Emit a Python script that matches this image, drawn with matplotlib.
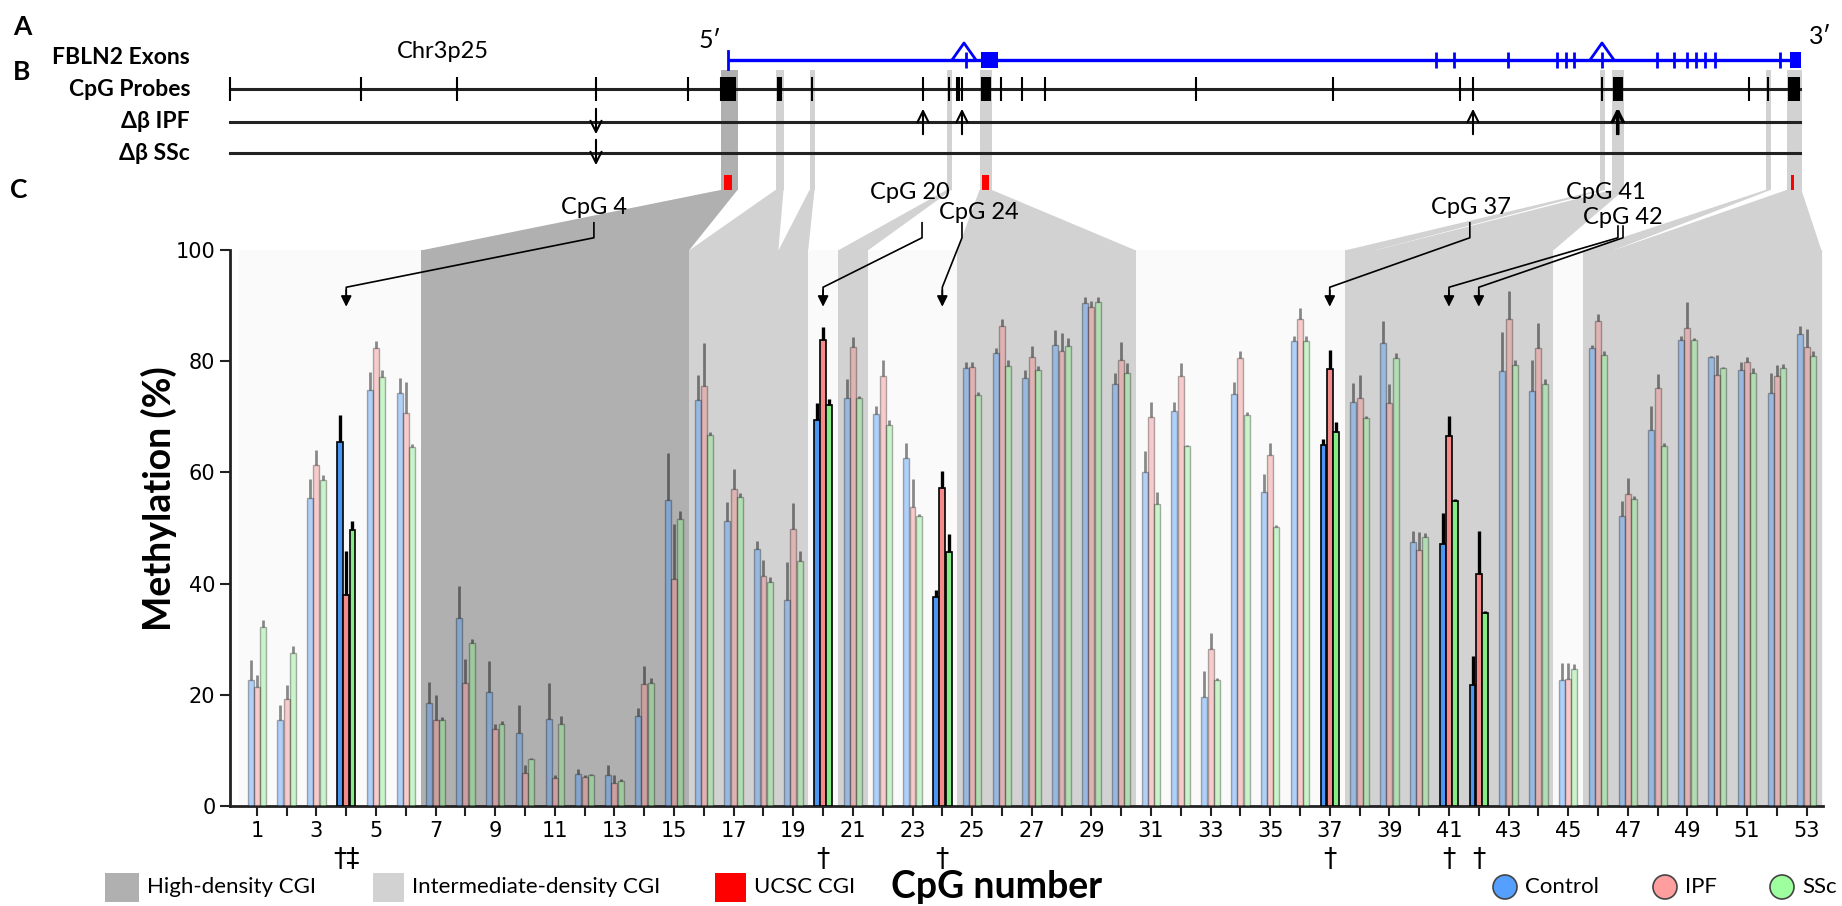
import matplotlib
matplotlib.use('Agg')
import matplotlib.pyplot as plt
from matplotlib.colors import to_rgba
from matplotlib.patches import Polygon, Rectangle, Circle
import numpy as np

# ---- data: methylation (%) per CpG, mean and SEM ----
cpg = np.arange(1, 54)
control = [22.7, 15.4, 55.4, 65.4, 74.9, 74.2, 18.5, 33.8, 20.5, 13.1, 15.6, 5.7, 5.6, 16.1, 55.1,
           73.0, 51.2, 46.2, 37.1, 69.4, 73.3, 70.5, 62.5, 37.6, 78.7, 81.4, 77.0, 83.0, 90.5, 75.9,
           60.0, 71.1, 19.6, 74.1, 56.5, 83.6, 64.9, 72.7, 83.2, 47.4, 47.1, 21.8, 78.2, 74.7, 22.7,
           82.3, 52.2, 67.6, 83.8, 80.8, 78.5, 74.2, 84.9]
control_sem = [3.5, 2.8, 3.4, 5.0, 3.1, 2.7, 3.8, 5.7, 5.5, 5.0, 6.6, 1.0, 1.8, 1.5, 8.4,
               4.5, 3.4, 1.5, 6.8, 3.1, 3.5, 1.5, 2.7, 1.3, 1.1, 1.0, 1.5, 2.6, 1.0, 1.9,
               3.9, 1.6, 4.6, 2.1, 3.3, 1.0, 1.1, 3.3, 4.0, 2.1, 5.6, 5.1, 7.1, 5.6, 3.0,
               0.7, 2.7, 4.3, 0.8, 0.2, 1.4, 3.7, 1.4]
ipf = [21.4, 19.2, 61.4, 37.9, 82.4, 70.7, 15.5, 22.2, 13.8, 6.0, 5.0, 5.3, 4.1, 22.0, 40.8,
       75.5, 57.0, 41.3, 49.8, 83.9, 82.6, 77.4, 53.8, 57.2, 79.0, 86.4, 80.8, 81.9, 89.7, 80.3,
       69.9, 77.4, 28.2, 80.5, 63.1, 87.6, 78.6, 73.4, 72.5, 46.1, 66.5, 41.8, 87.6, 82.4, 22.9,
       87.3, 56.1, 75.2, 86.0, 77.5, 79.9, 77.3, 82.6]
ipf_sem = [2.2, 2.6, 2.7, 7.9, 1.2, 5.5, 4.5, 4.2, 1.0, 1.4, 0.5, 0.3, 1.4, 3.2, 10.0,
           7.8, 3.6, 2.9, 4.7, 2.2, 1.7, 2.9, 5.0, 3.1, 0.9, 1.2, 2.0, 3.2, 1.2, 3.1,
           2.8, 2.3, 2.9, 1.4, 2.2, 2.0, 3.4, 4.1, 3.4, 3.1, 3.6, 7.7, 5.0, 4.5, 2.8,
           1.1, 2.9, 2.5, 4.7, 3.7, 0.9, 2.1, 3.2]
ssc = [32.2, 27.6, 58.7, 49.7, 77.1, 64.6, 15.4, 29.3, 14.8, 8.5, 14.8, 5.6, 4.5, 22.1, 51.6,
       66.7, 55.6, 40.3, 44.0, 72.1, 73.3, 68.5, 52.1, 45.7, 74.0, 79.2, 78.4, 82.8, 90.7, 77.9,
       54.4, 64.7, 22.6, 70.4, 50.2, 83.6, 67.3, 69.8, 80.5, 48.4, 54.9, 34.7, 79.3, 75.9, 24.7,
       81.1, 55.3, 64.8, 83.9, 78.8, 77.9, 78.7, 80.9]
ssc_sem = [1.3, 1.1, 0.8, 1.5, 1.3, 0.5, 0.6, 0.7, 0.4, 0.2, 1.4, 0.1, 0.4, 1.0, 1.4,
           0.5, 0.7, 0.9, 1.9, 1.1, 0.4, 0.9, 0.5, 3.3, 0.5, 1.1, 0.8, 1.4, 0.8, 1.7,
           2.0, 0.3, 0.5, 0.4, 0.4, 1.0, 1.7, 0.4, 1.0, 0.7, 0.3, 0.4, 0.9, 0.9, 0.8,
           0.7, 0.5, 0.4, 0.2, 0.2, 0.9, 0.8, 1.0]

highlight = [4, 20, 24, 37, 41, 42]
dagger = {4: '†‡', 20: '†', 24: '†', 37: '†', 41: '†', 42: '†'}

# ---- genomic track (drawing units along Chr3p25) ----
probe_pos = [230, 361, 457, 596, 688, 721,
             723, 724.5, 726, 727.5, 729, 730.5, 732, 733.5, 735,
             778, 779.5, 781, 812, 923, 949, 957, 959, 962,
             982, 983.5, 985, 986.5, 988, 989.5,
             1001, 1022, 1045, 1196, 1333, 1460, 1473, 1602,
             1614, 1615.5, 1617, 1618.5, 1620, 1621.5, 1749, 1768,
             1789, 1790.7, 1792.3, 1794, 1795.7, 1797.3, 1799]
gene_span = (728, 1800)
exon_ticks = [966, 1436, 1454, 1508, 1557, 1566, 1574, 1602, 1657, 1674, 1687, 1696, 1705, 1715, 1780]
exon_blocks = [(981, 998), (1790, 1801)]
splice_carets = [(952, 976), (1590, 1614)]
ucsc_cgi = [(724, 732), (982, 989), (1791, 1794)]
delta_ipf = {4: 'down', 20: 'up', 24: 'up', 37: 'up', 41: 'up', 42: 'up'}
delta_ssc = {4: 'down'}
cgi_groups = [(7, 15, 'high'), (16, 18, 'int'), (19, 19, 'int'), (21, 21, 'int'),
              (25, 30, 'int'), (38, 38, 'int'), (39, 44, 'int'), (46, 46, 'int'), (47, 53, 'int')]

# ---- styles ----
c_ctrl, c_ipf, c_ssc = '#4a96f5', '#f58a8a', '#86ec86'
c_high, c_int = '#b0b0b0', '#d2d2d2'
calib = ['Lato', 'DejaVu Sans']

fig = plt.figure(figsize=(18.42, 9.06), dpi=100)
ov = fig.add_axes([0, 0, 1, 1], zorder=0)
ov.set_xlim(0, 1842)
ov.set_ylim(906, 0)
ov.axis('off')

ax = fig.add_axes([230 / 1842, 100 / 906, 1593 / 1842, 556 / 906], zorder=1)
ax.patch.set_visible(False)
ax.set_xlim(0.1, 53.55)
ax.set_ylim(0, 100)


def to_ov(x, y):
    d = ax.transData.transform((x, y))
    return ov.transData.inverted().transform(d)


# backdrop
ax.axvspan(0.4, 53.55, color='#fafafa', zorder=0)

# CGI shading: column in track, fan, and span in bar axes
for first, last, kind in cgi_groups:
    col = c_high if kind == 'high' else c_int
    pts = probe_pos[first - 1:last]
    l, r = min(pts) - 2.5, max(pts) + 2.5
    ov.add_patch(Rectangle((l, 70), r - l, 120, color=col, zorder=1, lw=0))
    xl = to_ov(first - 0.5, 100)[0]
    xr = to_ov(last + 0.5, 100)[0]
    ov.add_patch(Polygon([(l, 190), (r, 190), (xr, 250.5), (xl, 250.5)], closed=True,
                         color=col, lw=0, zorder=1))
    ax.axvspan(first - 0.5, last + 0.5, color=col, lw=0, zorder=1)

for l, r in ucsc_cgi:
    ov.add_patch(Rectangle((l, 175), r - l, 15, color='red', lw=0, zorder=3))

# gene model
gy = 60
ov.plot(gene_span, [gy, gy], color='#0000ff', lw=2.4, zorder=2, solid_capstyle='butt')
ov.plot([gene_span[0]] * 2, [gy - 9, gy + 9], color='#0000ff', lw=2, zorder=2)
ov.vlines(exon_ticks, gy - 8, gy + 8, color='#0000ff', lw=2, zorder=2)
for a, b in exon_blocks:
    ov.add_patch(Rectangle((a, gy - 8), b - a, 16, color='#0000ff', lw=0, zorder=2))
for a, b in splice_carets:
    ov.plot([a, (a + b) / 2, b], [gy, gy - 17, gy], color='#0000ff', lw=2, zorder=2)

# probes and delta-beta tracks
py, iy, sy = 89, 122, 153
for yy in (py, iy, sy):
    ov.plot([230, 1800], [yy, yy], color='#222222', lw=2.2, zorder=2)
ov.vlines(probe_pos, py - 12, py + 12, color='black', lw=1.5, zorder=2)
arrow_kw = dict(arrowstyle='->', color='black', lw=1.5, mutation_scale=20)
for c, d in delta_ipf.items():
    x = probe_pos[c - 1]
    y0, y1 = (137, 106) if d == 'up' else (106, 137)
    ov.annotate('', xy=(x, y1), xytext=(x, y0), arrowprops=arrow_kw, zorder=3)
for c, d in delta_ssc.items():
    x = probe_pos[c - 1]
    ov.annotate('', xy=(x, 168), xytext=(x, 137), arrowprops=arrow_kw, zorder=3)

# track labels
ov.text(22, 27, 'A', fontsize=19, fontweight='bold', family=calib, ha='center', va='center')
ov.text(22, 72, 'B', fontsize=19, fontweight='bold', family=calib, ha='center', va='center')
ov.text(19, 190, 'C', fontsize=19, fontweight='bold', family=calib, ha='center', va='center')
for txt, yy in [('FBLN2 Exons', 57), ('CpG Probes', py), ('Δβ IPF', iy), ('Δβ SSc', sy)]:
    ov.text(190, yy, txt, fontsize=16.5, fontweight='bold', family=calib, ha='right', va='center')
ov.text(443, 51, 'Chr3p25', fontsize=17, family=calib, ha='center', va='center')
ov.text(710, 40, '5′', fontsize=18, family=calib, ha='center', va='center')
ov.text(1820, 36, '3′', fontsize=18, family=calib, ha='center', va='center')

# bars
hl = np.isin(cpg, highlight)
offs = [-0.21, 0.0, 0.21]
series = [(control, control_sem, c_ctrl), (ipf, ipf_sem, c_ipf), (ssc, ssc_sem, c_ssc)]
for (vals, sem, col), off in zip(series, offs):
    vals = np.asarray(vals)
    sem = np.asarray(sem)
    x = cpg + off
    for mask, alpha, ecol, lw, elw, ecl in [(~hl, 0.42, to_rgba('black', 0.3), 1.0, 2.0, to_rgba('black', 0.45)),
                                            (hl, 1.0, 'black', 1.2, 2.4, 'black')]:
        ax.bar(x[mask], vals[mask], 0.2, color=to_rgba(col, alpha), edgecolor=ecol,
               linewidth=lw, zorder=3)
        ax.errorbar(x[mask], vals[mask], yerr=[np.zeros(mask.sum()), sem[mask]], fmt='none',
                    ecolor=ecl, elinewidth=elw, capsize=0, zorder=4)

# CpG call-outs
label_layout = {4: (12.31, 107.6, 12.31, 104.9), 20: (22.91, 110.3, 23.32, 104.9),
                24: (25.23, 106.7, 24.66, 104.9), 37: (41.74, 107.6, 41.70, 104.9),
                41: (46.27, 110.4, 46.67, 104.3), 42: (46.84, 105.9, 46.84, 104.3)}
for c in highlight:
    tx, ty, sx, sy0 = label_layout[c]
    ax.text(tx, ty, f'CpG {c}', fontsize=17, family=calib, ha='center', va='center',
            clip_on=False, zorder=7)
    ax.plot([sx, sx, c, c], [sy0, 102.2, 93.3, 91.5], color='black', lw=1.2,
            clip_on=False, zorder=6)
    ax.annotate('', xy=(c, 89.3), xytext=(c, 93.3),
                arrowprops=dict(arrowstyle='-|>', color='black', lw=1.2, mutation_scale=16),
                annotation_clip=False, zorder=6)

for c, s in dagger.items():
    ax.text(c, -0.098, s, transform=ax.get_xaxis_transform(), fontsize=19,
            ha='center', va='center')

# axes styling
for s in ('top', 'right'):
    ax.spines[s].set_visible(False)
for s in ('left', 'bottom'):
    ax.spines[s].set_linewidth(2)
    ax.spines[s].set_color('#222222')
ax.set_xticks(cpg)
ax.set_xticklabels([str(c) if c % 2 else '' for c in cpg])
ax.set_yticks([0, 20, 40, 60, 80, 100])
ax.tick_params(axis='both', direction='out', length=7, width=1.5, labelsize=15, colors='#222222')
ax.tick_params(axis='both', labelcolor='black')

fig.text(159 / 1842, 1 - 499 / 906, 'Methylation (%)', rotation=90, fontsize=27,
         fontweight='bold', family=calib, ha='center', va='center')
fig.text(997 / 1842, 1 - 887 / 906, 'CpG number', fontsize=27,
         fontweight='bold', family=calib, ha='center', va='center')

# legend
ly = 887
for x0, w, col, txt in [(105, 34, c_high, 'High-density CGI'), (373, 31, c_int, 'Intermediate-density CGI'),
                        (715, 31, 'red', 'UCSC CGI')]:
    ov.add_patch(Rectangle((x0, ly - 14), w, 29, color=col, lw=0))
    ov.text(x0 + w + 8, ly, txt, fontsize=16, family=calib, ha='left', va='center')
for cx, col, txt in [(1505, '#55a0ff', 'Control'), (1665, '#ff9e9e', 'IPF'), (1782, '#9eff9e', 'SSc')]:
    ov.add_patch(Circle((cx, ly), 12, facecolor=col, edgecolor='#444444', lw=1.2))
    ov.text(cx + 20, ly, txt, fontsize=16, family=calib, ha='left', va='center')

fig.savefig('out.png', dpi=100)
